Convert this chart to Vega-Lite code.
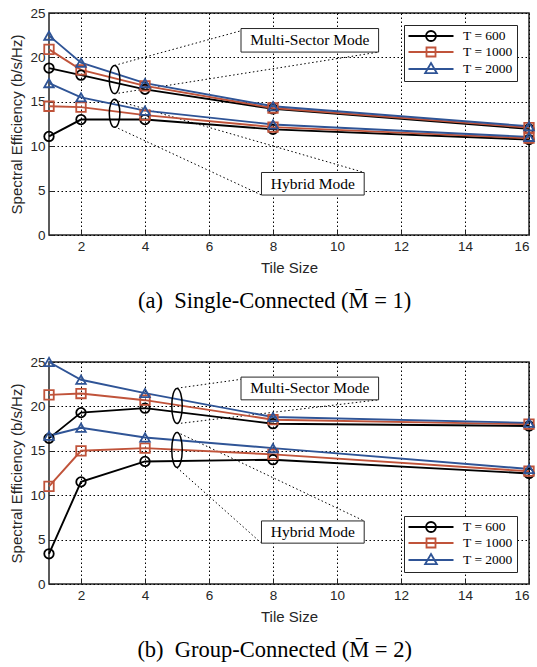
{
  "$schema": "https://vega.github.io/schema/vega-lite/v6.json",
  "padding": {"top": 5, "left": 9, "right": 5, "bottom": 5},
  "spacing": 40,
  "datasets": {
    "single": [
      {"mode": "Multi-Sector", "T": "T = 600", "tile": 1, "se": 18.8},
      {"mode": "Multi-Sector", "T": "T = 600", "tile": 2, "se": 18.0},
      {"mode": "Multi-Sector", "T": "T = 600", "tile": 4, "se": 16.4},
      {"mode": "Multi-Sector", "T": "T = 600", "tile": 8, "se": 14.2},
      {"mode": "Multi-Sector", "T": "T = 600", "tile": 16, "se": 11.95},
      {"mode": "Multi-Sector", "T": "T = 1000", "tile": 1, "se": 20.9},
      {"mode": "Multi-Sector", "T": "T = 1000", "tile": 2, "se": 18.6},
      {"mode": "Multi-Sector", "T": "T = 1000", "tile": 4, "se": 16.8},
      {"mode": "Multi-Sector", "T": "T = 1000", "tile": 8, "se": 14.3},
      {"mode": "Multi-Sector", "T": "T = 1000", "tile": 16, "se": 12.1},
      {"mode": "Multi-Sector", "T": "T = 2000", "tile": 1, "se": 22.45},
      {"mode": "Multi-Sector", "T": "T = 2000", "tile": 2, "se": 19.4},
      {"mode": "Multi-Sector", "T": "T = 2000", "tile": 4, "se": 17.1},
      {"mode": "Multi-Sector", "T": "T = 2000", "tile": 8, "se": 14.5},
      {"mode": "Multi-Sector", "T": "T = 2000", "tile": 16, "se": 12.25},
      {"mode": "Hybrid", "T": "T = 600", "tile": 1, "se": 11.1},
      {"mode": "Hybrid", "T": "T = 600", "tile": 2, "se": 13.0},
      {"mode": "Hybrid", "T": "T = 600", "tile": 4, "se": 13.0},
      {"mode": "Hybrid", "T": "T = 600", "tile": 8, "se": 11.9},
      {"mode": "Hybrid", "T": "T = 600", "tile": 16, "se": 10.75},
      {"mode": "Hybrid", "T": "T = 1000", "tile": 1, "se": 14.5},
      {"mode": "Hybrid", "T": "T = 1000", "tile": 2, "se": 14.4},
      {"mode": "Hybrid", "T": "T = 1000", "tile": 4, "se": 13.5},
      {"mode": "Hybrid", "T": "T = 1000", "tile": 8, "se": 12.15},
      {"mode": "Hybrid", "T": "T = 1000", "tile": 16, "se": 10.9},
      {"mode": "Hybrid", "T": "T = 2000", "tile": 1, "se": 17.1},
      {"mode": "Hybrid", "T": "T = 2000", "tile": 2, "se": 15.5},
      {"mode": "Hybrid", "T": "T = 2000", "tile": 4, "se": 14.0},
      {"mode": "Hybrid", "T": "T = 2000", "tile": 8, "se": 12.45},
      {"mode": "Hybrid", "T": "T = 2000", "tile": 16, "se": 11.05}
    ],
    "group": [
      {"mode": "Multi-Sector", "T": "T = 600", "tile": 1, "se": 16.4},
      {"mode": "Multi-Sector", "T": "T = 600", "tile": 2, "se": 19.3},
      {"mode": "Multi-Sector", "T": "T = 600", "tile": 4, "se": 19.8},
      {"mode": "Multi-Sector", "T": "T = 600", "tile": 8, "se": 18.05},
      {"mode": "Multi-Sector", "T": "T = 600", "tile": 16, "se": 17.8},
      {"mode": "Multi-Sector", "T": "T = 1000", "tile": 1, "se": 21.3},
      {"mode": "Multi-Sector", "T": "T = 1000", "tile": 2, "se": 21.45},
      {"mode": "Multi-Sector", "T": "T = 1000", "tile": 4, "se": 20.7},
      {"mode": "Multi-Sector", "T": "T = 1000", "tile": 8, "se": 18.5},
      {"mode": "Multi-Sector", "T": "T = 1000", "tile": 16, "se": 18.0},
      {"mode": "Multi-Sector", "T": "T = 2000", "tile": 1, "se": 25.0},
      {"mode": "Multi-Sector", "T": "T = 2000", "tile": 2, "se": 23.0},
      {"mode": "Multi-Sector", "T": "T = 2000", "tile": 4, "se": 21.5},
      {"mode": "Multi-Sector", "T": "T = 2000", "tile": 8, "se": 18.8},
      {"mode": "Multi-Sector", "T": "T = 2000", "tile": 16, "se": 18.15},
      {"mode": "Hybrid", "T": "T = 600", "tile": 1, "se": 3.4},
      {"mode": "Hybrid", "T": "T = 600", "tile": 2, "se": 11.5},
      {"mode": "Hybrid", "T": "T = 600", "tile": 4, "se": 13.8},
      {"mode": "Hybrid", "T": "T = 600", "tile": 8, "se": 14.0},
      {"mode": "Hybrid", "T": "T = 600", "tile": 16, "se": 12.45},
      {"mode": "Hybrid", "T": "T = 1000", "tile": 1, "se": 11.0},
      {"mode": "Hybrid", "T": "T = 1000", "tile": 2, "se": 15.0},
      {"mode": "Hybrid", "T": "T = 1000", "tile": 4, "se": 15.3},
      {"mode": "Hybrid", "T": "T = 1000", "tile": 8, "se": 14.6},
      {"mode": "Hybrid", "T": "T = 1000", "tile": 16, "se": 12.7},
      {"mode": "Hybrid", "T": "T = 2000", "tile": 1, "se": 16.7},
      {"mode": "Hybrid", "T": "T = 2000", "tile": 2, "se": 17.6},
      {"mode": "Hybrid", "T": "T = 2000", "tile": 4, "se": 16.5},
      {"mode": "Hybrid", "T": "T = 2000", "tile": 8, "se": 15.3},
      {"mode": "Hybrid", "T": "T = 2000", "tile": 16, "se": 12.95}
    ],
    "singleLinks": [
      {"xa": 3.05, "ya": 19.1, "xb": 7.0, "yb": 23.0},
      {"xa": 3.05, "ya": 15.9, "xb": 11.3, "yb": 20.6},
      {"xa": 3.05, "ya": 15.2, "xb": 10.85, "yb": 7.04},
      {"xa": 3.05, "ya": 12.2, "xb": 7.64, "yb": 4.5}
    ],
    "singleRings": [
      {"x": 3.05, "y": 17.5},
      {"x": 3.05, "y": 13.7}
    ],
    "singleBoxes": [
      {"label": "Multi-Sector Mode", "x1": 7.0, "x2": 11.3, "y1": 20.6, "y2": 23.25, "xm": 9.15, "ym": 21.92},
      {"label": "Hybrid Mode", "x1": 7.64, "x2": 10.85, "y1": 4.5, "y2": 7.04, "xm": 9.245, "ym": 5.77}
    ],
    "groupLinks": [
      {"xa": 5.0, "ya": 22.05, "xb": 7.0, "yb": 23.05},
      {"xa": 5.0, "ya": 18.05, "xb": 11.3, "yb": 20.74},
      {"xa": 5.0, "ya": 17.1, "xb": 10.85, "yb": 7.1},
      {"xa": 5.0, "ya": 13.1, "xb": 7.64, "yb": 4.6}
    ],
    "groupRings": [
      {"x": 5.0, "y": 20.05},
      {"x": 5.0, "y": 15.1}
    ],
    "groupBoxes": [
      {"label": "Multi-Sector Mode", "x1": 7.0, "x2": 11.3, "y1": 20.74, "y2": 23.3, "xm": 9.15, "ym": 22.02},
      {"label": "Hybrid Mode", "x1": 7.64, "x2": 10.85, "y1": 4.6, "y2": 7.1, "xm": 9.245, "ym": 5.85}
    ]
  },
  "config": {
    "view": {"stroke": "#262626", "strokeWidth": 1.5},
    "axis": {
      "labelFont": "Liberation Sans", "labelFontSize": 13.5, "labelColor": "#262626",
      "titleFont": "Liberation Sans", "titleFontSize": 15, "titleFontWeight": "normal", "titleColor": "#262626",
      "gridColor": "#000000", "gridDash": [1.5, 2.5], "gridOpacity": 1, "gridWidth": 1,
      "domain": false, "tickColor": "#262626", "tickSize": -5, "tickWidth": 1, "labelPadding": 9
    },
    "axisX": {"titlePadding": 8},
    "axisY": {"titlePadding": 5},
    "legend": {
      "strokeColor": "#262626", "fillColor": "white", "padding": 4, "offset": 12,
      "labelFont": "Liberation Serif", "labelFontSize": 13.5, "labelColor": "black",
      "symbolSize": 144, "symbolStrokeWidth": 1.8, "symbolOpacity": 1,
      "symbolOffset": 16, "labelOffset": 25, "rowPadding": -2
    },
    "title": {"orient": "bottom", "font": "Liberation Serif", "fontSize": 22.5, "fontWeight": "normal", "color": "black", "anchor": "middle", "frame": "bounds", "offset": 14}
  },
  "vconcat": [
    {
      "width": 480, "height": 222,
      "title": {"text": "(a)\u00a0 Single-Connected (M\u0304 = 1)"},
      "resolve": {"scale": {"color": "independent", "shape": "independent"}},
      "layer": [
        {
          "data": {"name": "singleLinks"},
          "mark": {"type": "rule", "color": "black", "strokeDash": [1.5, 2.5], "strokeWidth": 1},
          "encoding": {
            "x": {"field": "xa", "type": "quantitative", "title": "Tile Size"},
            "y": {"field": "ya", "type": "quantitative", "title": "Spectral Efficiency (b/s/Hz)"},
            "x2": {"field": "xb"},
            "y2": {"field": "yb"}
          }
        },
        {
          "data": {"name": "single"},
          "mark": {"type": "line", "strokeWidth": 1.9},
          "encoding": {
            "x": {"field": "tile", "type": "quantitative", "title": "Tile Size", "scale": {"domain": [1, 16], "nice": false, "zero": false}, "axis": {"values": [2, 4, 6, 8, 10, 12, 14, 16]}},
            "y": {"field": "se", "type": "quantitative", "title": "Spectral Efficiency (b/s/Hz)", "scale": {"domain": [0, 25], "nice": false}, "axis": {"values": [0, 5, 10, 15, 20, 25]}},
            "color": {"field": "T", "type": "nominal", "scale": {"domain": ["T = 600", "T = 1000", "T = 2000"], "range": ["#000000", "#C0533A", "#2F5496"]}, "legend": null},
            "detail": {"field": "mode"}
          }
        },
        {
          "data": {"name": "single"},
          "mark": {"type": "point", "filled": false, "strokeWidth": 1.8, "size": 90, "opacity": 1},
          "encoding": {
            "x": {"field": "tile", "type": "quantitative", "title": "Tile Size"},
            "y": {"field": "se", "type": "quantitative", "title": "Spectral Efficiency (b/s/Hz)"},
            "color": {"field": "T", "type": "nominal", "scale": {"domain": ["T = 600", "T = 1000", "T = 2000"], "range": ["#000000", "#C0533A", "#2F5496"]}, "legend": null},
            "shape": {"field": "T", "type": "nominal", "scale": {"domain": ["T = 600", "T = 1000", "T = 2000"], "range": ["circle", "square", "triangle-up"]}, "legend": null}
          }
        },
        {
          "data": {"name": "single"},
          "mark": {"type": "point", "filled": false, "opacity": 0},
          "encoding": {
            "x": {"field": "tile", "type": "quantitative", "title": "Tile Size"},
            "y": {"field": "se", "type": "quantitative", "title": "Spectral Efficiency (b/s/Hz)"},
            "color": {"field": "T", "type": "nominal", "scale": {"domain": ["T = 600", "T = 1000", "T = 2000"], "range": ["#000000", "#C0533A", "#2F5496"]}, "legend": {"title": null, "orient": "top-right"}},
            "shape": {"field": "T", "type": "nominal", "scale": {"domain": ["T = 600", "T = 1000", "T = 2000"], "range": ["M-3.75,0H3.75M-0.83,0A0.83,0.83,0,1,0,0.83,0A0.83,0.83,0,1,0,-0.83,0Z", "M-3.75,0H3.75M-0.75,-0.75H0.75V0.75H-0.75Z", "M-3.75,0H3.75M0,-1L0.98,0.7H-0.98Z"]}, "legend": {"title": null, "orient": "top-right"}}
          }
        },
        {
          "data": {"name": "singleRings"},
          "mark": {"type": "point", "filled": false, "color": "black", "strokeWidth": 1.5, "opacity": 1, "size": 784, "shape": "M0,-1A0.38,1,0,1,1,0,1A0.38,1,0,1,1,0,-1Z"},
          "encoding": {
            "x": {"field": "x", "type": "quantitative", "title": "Tile Size"},
            "y": {"field": "y", "type": "quantitative", "title": "Spectral Efficiency (b/s/Hz)"}
          }
        },
        {
          "data": {"name": "singleBoxes"},
          "mark": {"type": "rect", "fill": "white", "stroke": "#262626", "strokeWidth": 1},
          "encoding": {
            "x": {"field": "x1", "type": "quantitative", "title": "Tile Size"},
            "x2": {"field": "x2"},
            "y": {"field": "y1", "type": "quantitative", "title": "Spectral Efficiency (b/s/Hz)"},
            "y2": {"field": "y2"}
          }
        },
        {
          "data": {"name": "singleBoxes"},
          "mark": {"type": "text", "font": "Liberation Serif", "fontSize": 15.5, "color": "black", "align": "center", "baseline": "middle"},
          "encoding": {
            "x": {"field": "xm", "type": "quantitative", "title": "Tile Size"},
            "y": {"field": "ym", "type": "quantitative", "title": "Spectral Efficiency (b/s/Hz)"},
            "text": {"field": "label"}
          }
        }
      ]
    },
    {
      "width": 480, "height": 222,
      "title": {"text": "(b)\u00a0 Group-Connected (M\u0304 = 2)"},
      "resolve": {"scale": {"color": "independent", "shape": "independent"}},
      "layer": [
        {
          "data": {"name": "groupLinks"},
          "mark": {"type": "rule", "color": "black", "strokeDash": [1.5, 2.5], "strokeWidth": 1},
          "encoding": {
            "x": {"field": "xa", "type": "quantitative", "title": "Tile Size"},
            "y": {"field": "ya", "type": "quantitative", "title": "Spectral Efficiency (b/s/Hz)"},
            "x2": {"field": "xb"},
            "y2": {"field": "yb"}
          }
        },
        {
          "data": {"name": "group"},
          "mark": {"type": "line", "strokeWidth": 1.9},
          "encoding": {
            "x": {"field": "tile", "type": "quantitative", "title": "Tile Size", "scale": {"domain": [1, 16], "nice": false, "zero": false}, "axis": {"values": [2, 4, 6, 8, 10, 12, 14, 16]}},
            "y": {"field": "se", "type": "quantitative", "title": "Spectral Efficiency (b/s/Hz)", "scale": {"domain": [0, 25], "nice": false}, "axis": {"values": [0, 5, 10, 15, 20, 25]}},
            "color": {"field": "T", "type": "nominal", "scale": {"domain": ["T = 600", "T = 1000", "T = 2000"], "range": ["#000000", "#C0533A", "#2F5496"]}, "legend": null},
            "detail": {"field": "mode"}
          }
        },
        {
          "data": {"name": "group"},
          "mark": {"type": "point", "filled": false, "strokeWidth": 1.8, "size": 90, "opacity": 1},
          "encoding": {
            "x": {"field": "tile", "type": "quantitative", "title": "Tile Size"},
            "y": {"field": "se", "type": "quantitative", "title": "Spectral Efficiency (b/s/Hz)"},
            "color": {"field": "T", "type": "nominal", "scale": {"domain": ["T = 600", "T = 1000", "T = 2000"], "range": ["#000000", "#C0533A", "#2F5496"]}, "legend": null},
            "shape": {"field": "T", "type": "nominal", "scale": {"domain": ["T = 600", "T = 1000", "T = 2000"], "range": ["circle", "square", "triangle-up"]}, "legend": null}
          }
        },
        {
          "data": {"name": "group"},
          "mark": {"type": "point", "filled": false, "opacity": 0},
          "encoding": {
            "x": {"field": "tile", "type": "quantitative", "title": "Tile Size"},
            "y": {"field": "se", "type": "quantitative", "title": "Spectral Efficiency (b/s/Hz)"},
            "color": {"field": "T", "type": "nominal", "scale": {"domain": ["T = 600", "T = 1000", "T = 2000"], "range": ["#000000", "#C0533A", "#2F5496"]}, "legend": {"title": null, "orient": "bottom-right"}},
            "shape": {"field": "T", "type": "nominal", "scale": {"domain": ["T = 600", "T = 1000", "T = 2000"], "range": ["M-3.75,0H3.75M-0.83,0A0.83,0.83,0,1,0,0.83,0A0.83,0.83,0,1,0,-0.83,0Z", "M-3.75,0H3.75M-0.75,-0.75H0.75V0.75H-0.75Z", "M-3.75,0H3.75M0,-1L0.98,0.7H-0.98Z"]}, "legend": {"title": null, "orient": "bottom-right"}}
          }
        },
        {
          "data": {"name": "groupRings"},
          "mark": {"type": "point", "filled": false, "color": "black", "strokeWidth": 1.5, "opacity": 1, "size": 1225, "shape": "M0,-1A0.3,1,0,1,1,0,1A0.3,1,0,1,1,0,-1Z"},
          "encoding": {
            "x": {"field": "x", "type": "quantitative", "title": "Tile Size"},
            "y": {"field": "y", "type": "quantitative", "title": "Spectral Efficiency (b/s/Hz)"}
          }
        },
        {
          "data": {"name": "groupBoxes"},
          "mark": {"type": "rect", "fill": "white", "stroke": "#262626", "strokeWidth": 1},
          "encoding": {
            "x": {"field": "x1", "type": "quantitative", "title": "Tile Size"},
            "x2": {"field": "x2"},
            "y": {"field": "y1", "type": "quantitative", "title": "Spectral Efficiency (b/s/Hz)"},
            "y2": {"field": "y2"}
          }
        },
        {
          "data": {"name": "groupBoxes"},
          "mark": {"type": "text", "font": "Liberation Serif", "fontSize": 15.5, "color": "black", "align": "center", "baseline": "middle"},
          "encoding": {
            "x": {"field": "xm", "type": "quantitative", "title": "Tile Size"},
            "y": {"field": "ym", "type": "quantitative", "title": "Spectral Efficiency (b/s/Hz)"},
            "text": {"field": "label"}
          }
        }
      ]
    }
  ]
}
